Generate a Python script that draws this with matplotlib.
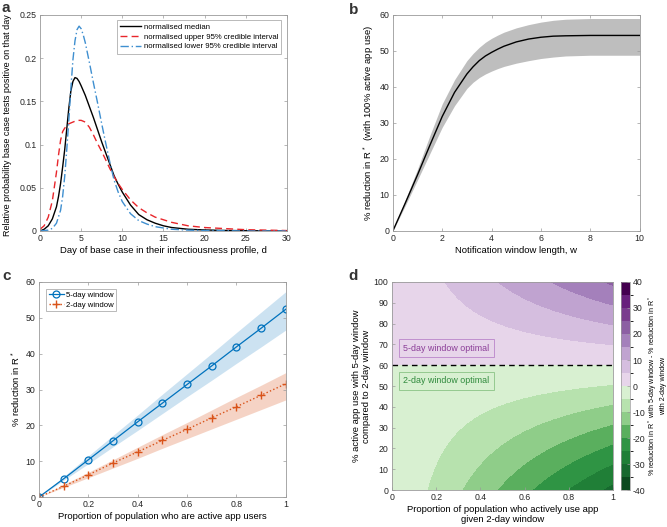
import numpy as np
import matplotlib
matplotlib.use("Agg")
import matplotlib.pyplot as plt
from matplotlib.colors import ListedColormap, BoundaryNorm

plt.rcParams['font.family'] = ['Liberation Sans', 'DejaVu Sans']
plt.rcParams['mathtext.fontset'] = 'custom'
plt.rcParams['mathtext.rm'] = 'Liberation Sans'
plt.rcParams['axes.unicode_minus'] = False

# ---------------- Panel a data ----------------
day_med = [0, 0.5, 1, 1.5, 2, 2.25, 2.5, 2.75, 3, 3.25, 3.5, 3.75, 4, 4.25, 4.5, 4.75, 5, 5.5, 6, 6.5, 7, 7.5, 8, 8.5, 9, 9.5, 10, 11, 12, 13, 14, 15, 16, 18, 20, 22, 25, 30]
median_a = [0.0, 0.002, 0.006, 0.014, 0.028, 0.040, 0.055, 0.074, 0.094, 0.118, 0.142, 0.162, 0.173, 0.1775, 0.1765, 0.173, 0.168, 0.157, 0.144, 0.131, 0.117, 0.103, 0.090, 0.077, 0.064, 0.054, 0.045, 0.030, 0.019, 0.013, 0.009, 0.006, 0.004, 0.002, 0.0012, 0.0007, 0.0003, 0.0]
day_up = [0, 0.5, 1, 1.5, 2, 2.25, 2.5, 2.75, 3, 3.5, 4, 4.5, 5, 5.5, 6, 6.5, 7, 7.5, 8, 8.5, 9, 9.5, 10, 11, 12, 13, 14, 15, 16, 18, 20, 22, 25, 30]
upper_a = [0.002, 0.006, 0.016, 0.035, 0.068, 0.088, 0.105, 0.115, 0.119, 0.124, 0.126, 0.128, 0.128, 0.126, 0.120, 0.111, 0.101, 0.092, 0.082, 0.072, 0.063, 0.055, 0.048, 0.036, 0.027, 0.021, 0.016, 0.013, 0.010, 0.006, 0.004, 0.003, 0.0015, 0.0005]
day_lo = [0, 1, 1.5, 2, 2.5, 2.75, 3, 3.25, 3.5, 3.75, 4, 4.25, 4.5, 4.75, 5, 5.25, 5.5, 6, 6.5, 7, 7.5, 8, 8.5, 9, 9.5, 10, 11, 12, 13, 14, 16, 18, 20, 25, 30]
lower_a = [0.0, 0.001, 0.003, 0.009, 0.024, 0.040, 0.063, 0.094, 0.128, 0.165, 0.198, 0.220, 0.233, 0.237, 0.234, 0.227, 0.218, 0.195, 0.171, 0.148, 0.124, 0.101, 0.079, 0.059, 0.045, 0.034, 0.020, 0.012, 0.008, 0.005, 0.002, 0.001, 0.0005, 0.0, 0.0]
legend_a = ['normalised median', 'normalised upper 95% credible interval', 'normalised lower 95% credible interval']

# ---------------- Panel b data ----------------
w_b = [0, 0.5, 1, 1.5, 2, 2.5, 3, 3.25, 3.5, 3.75, 4, 4.25, 4.5, 5, 5.5, 6, 6.5, 7, 8, 9, 10]
red_b = [0, 7.7, 15.6, 23.8, 31.8, 38.5, 43.6, 45.6, 47.3, 48.6, 49.6, 50.5, 51.3, 52.5, 53.3, 53.8, 54.1, 54.2, 54.3, 54.3, 54.3]
red_b_up = [0, 8.6, 17.2, 26.5, 35.3, 42.0, 47.3, 49.3, 51.0, 52.4, 53.5, 54.4, 55.2, 56.4, 57.3, 58.0, 58.5, 58.8, 59.0, 59.0, 59.0]
red_b_lo = [0, 7.0, 14.2, 21.5, 28.8, 34.8, 39.6, 41.3, 42.6, 43.6, 44.4, 45.1, 45.7, 46.6, 47.3, 47.9, 48.3, 48.6, 48.8, 48.8, 48.8]

# ---------------- Panel c data ----------------
prop_c = [0, 0.1, 0.2, 0.3, 0.4, 0.5, 0.6, 0.7, 0.8, 0.9, 1.0]
win5 = [0, 5.1, 10.4, 15.7, 21.0, 26.2, 31.4, 36.6, 41.9, 47.1, 52.4]
win5_up = [0, 5.7, 11.5, 17.2, 22.9, 28.7, 34.4, 40.1, 45.9, 51.6, 57.3]
win5_lo = [0, 4.7, 9.3, 14.0, 18.6, 23.3, 28.0, 32.6, 37.3, 41.9, 46.6]
win2 = [0, 3.0, 6.2, 9.5, 12.6, 15.8, 18.9, 22.1, 25.2, 28.4, 31.6]
win2_up = [0, 3.5, 6.9, 10.4, 13.9, 17.4, 20.8, 24.3, 27.8, 31.2, 34.7]
win2_lo = [0, 2.7, 5.4, 8.1, 10.8, 13.6, 16.3, 19.0, 21.7, 24.4, 27.1]
legend_c = ['5-day window', '2-day window']

# ---------------- Panel d data ----------------
full_red_5day = 52.4   # % reduction at 100% use, 5-day window
full_red_2day = 31.6   # % reduction at 100% use, 2-day window
levels_d = [-40, -35, -30, -25, -20, -15, -10, -5, 0, 5, 10, 15, 20, 25, 30, 35, 40]
colors_d = ['#0b4a1f', '#17692f', '#207f37', '#2f9444', '#5aaf5e', '#8fcd89', '#b7e2ae', '#d8f0d1',
            '#e7d5ea', '#d5bedf', '#c0a3d0', '#a480bb', '#8c5fa3', '#7a3d8e', '#68207c', '#44004f']

fig = plt.figure(figsize=(6.67, 5.27), dpi=100)
FS = 6.3      # tick labels
LFS = 6.8     # axis labels
frame_col = '#9a9a9a'
tick_col = '#262626'

def style(ax):
    for s in ax.spines.values():
        s.set_color(frame_col)
        s.set_linewidth(0.6)
    ax.tick_params(direction='in', length=2.5, width=0.5, color=frame_col, labelsize=FS,
                   labelcolor=tick_col, top=True, right=True, pad=2.5)

# ---- a ----
axa = fig.add_axes([0.060, 0.5617, 0.370, 0.410])
axa.plot(day_med, median_a, color='black', lw=1.0, label=legend_a[0])
axa.plot(day_up, upper_a, color='#e8262b', lw=1.0, ls=(0, (5, 3)), label=legend_a[1])
axa.plot(day_lo, lower_a, color='#3f8fd0', lw=1.0, ls=(0, (6, 2, 1, 2)), label=legend_a[2])
axa.set_xlim(0, 30)
axa.set_ylim(0, 0.25)
axa.set_xticks([0, 5, 10, 15, 20, 25, 30])
axa.set_yticks([0, 0.05, 0.1, 0.15, 0.2, 0.25])
axa.set_yticklabels(['0', '0.05', '0.1', '0.15', '0.2', '0.25'])
axa.set_xlabel('Day of base case in their infectiousness profile, d', fontsize=LFS, labelpad=2)
axa.set_ylabel('Relative probability base case tests positive on that day', fontsize=6.5, labelpad=2)
axa.yaxis.set_label_coords(-0.112, 0.49)
style(axa)
lg = axa.legend(loc='upper right', fontsize=5.6, frameon=True, fancybox=False,
                handlelength=2.8, borderpad=0.4, labelspacing=0.3, borderaxespad=0.7, handletextpad=0.3)
lg.get_frame().set_edgecolor(frame_col)
lg.get_frame().set_linewidth(0.6)

# ---- b ----
axb = fig.add_axes([0.589, 0.5617, 0.370, 0.410])
axb.fill_between(w_b, red_b_lo, red_b_up, color='#bebebe', lw=0)
axb.plot(w_b, red_b, color='black', lw=1.0)
axb.set_xlim(0, 10)
axb.set_ylim(0, 60)
axb.set_xticks([0, 2, 4, 6, 8, 10])
axb.set_yticks([0, 10, 20, 30, 40, 50, 60])
axb.set_xlabel('Notification window length, w', fontsize=LFS, labelpad=2)
axb.set_ylabel('% reduction in R$^*$  (with 100% active app use)', fontsize=LFS, labelpad=2)
style(axb)

# ---- c ----
axc = fig.add_axes([0.0585, 0.0569, 0.370, 0.408])
blue = '#0072BD'
orange = '#D95319'
axc.fill_between(prop_c, win5_lo, win5_up, color=blue, alpha=0.2, lw=0)
axc.fill_between(prop_c, win2_lo, win2_up, color=orange, alpha=0.25, lw=0)
axc.plot(prop_c, win5, color=blue, lw=0.9, marker='o', ms=5, mfc='none', mew=0.9, label=legend_c[0])
axc.plot(prop_c, win2, color=orange, lw=1.0, ls=':', marker='+', ms=6, mew=1.0, label=legend_c[1])
axc.set_xlim(0, 1)
axc.set_ylim(0, 60)
axc.set_xticks([0, 0.2, 0.4, 0.6, 0.8, 1])
axc.set_xticklabels(['0', '0.2', '0.4', '0.6', '0.8', '1'])
axc.set_yticks([0, 10, 20, 30, 40, 50, 60])
axc.set_xlabel('Proportion of population who are active app users', fontsize=LFS, labelpad=2)
axc.set_ylabel('% reduction in R$^*$', fontsize=LFS, labelpad=2)
style(axc)
lg = axc.legend(loc='upper left', fontsize=5.6, frameon=True, fancybox=False,
                handlelength=1.9, borderpad=0.35, labelspacing=0.25, borderaxespad=0.9, handletextpad=0.3)
lg.get_frame().set_edgecolor(frame_col)
lg.get_frame().set_linewidth(0.6)

# ---- d ----
axd = fig.add_axes([0.5877, 0.0702, 0.3313, 0.3947])
pp = np.linspace(0, 1, 201)
qq = np.linspace(0, 100, 201)
P, Q = np.meshgrid(pp, qq)
Z = P * (full_red_5day * Q / 100.0 - full_red_2day)
cmap = ListedColormap(colors_d)
norm = BoundaryNorm(levels_d, cmap.N)
cf = axd.contourf(P, Q, Z, levels=levels_d, cmap=cmap, norm=norm)
q0 = 100 * full_red_2day / full_red_5day
axd.axhline(q0, color='black', ls=(0, (4, 3)), lw=1.0)
axd.text(0.05, 68.2, '5-day window optimal', color='#8b3d98', fontsize=6.4, va='center', ha='left',
         bbox=dict(boxstyle='square,pad=0.5', fc='none', ec='#c08fcf', lw=0.7))
axd.text(0.05, 52.6, '2-day window optimal', color='#2f8a3c', fontsize=6.4, va='center', ha='left',
         bbox=dict(boxstyle='square,pad=0.5', fc='none', ec='#94c98f', lw=0.7))
axd.set_xlim(0, 1)
axd.set_ylim(0, 100)
axd.set_xticks([0, 0.2, 0.4, 0.6, 0.8, 1])
axd.set_xticklabels(['0', '0.2', '0.4', '0.6', '0.8', '1'])
axd.set_yticks(range(0, 101, 10))
axd.set_xlabel('Proportion of population who actively use app\ngiven 2-day window', fontsize=LFS,
               labelpad=2, linespacing=1.15)
axd.set_ylabel('% active app use with 5-day window\ncompared to 2-day window', fontsize=LFS,
               labelpad=2, linespacing=1.15)
style(axd)
axd.tick_params(top=False, right=False)

cax = fig.add_axes([0.931, 0.0702, 0.0135, 0.3947])
cb = fig.colorbar(cf, cax=cax, ticks=[-40, -30, -20, -10, 0, 10, 20, 30, 40])
cb.outline.set_edgecolor(frame_col)
cb.outline.set_linewidth(0.5)
cax.tick_params(direction='in', length=2, width=0.5, color=frame_col, labelsize=FS, labelcolor=tick_col, pad=2)
cb.set_label('% reduction in R$^*$ with 5-day window - % reduction in R$^*$\nwith 2-day window',
             fontsize=5.1, labelpad=1, linespacing=1.0)

# panel letters
for lbl, x, y in [('a', 0.002, 0.998), ('b', 0.523, 0.995), ('c', 0.003, 0.49), ('d', 0.523, 0.49)]:
    fig.text(x, y, lbl, fontsize=11, fontweight='bold', va='top', ha='left', color='#333333')

fig.savefig('out.png', dpi=100)
